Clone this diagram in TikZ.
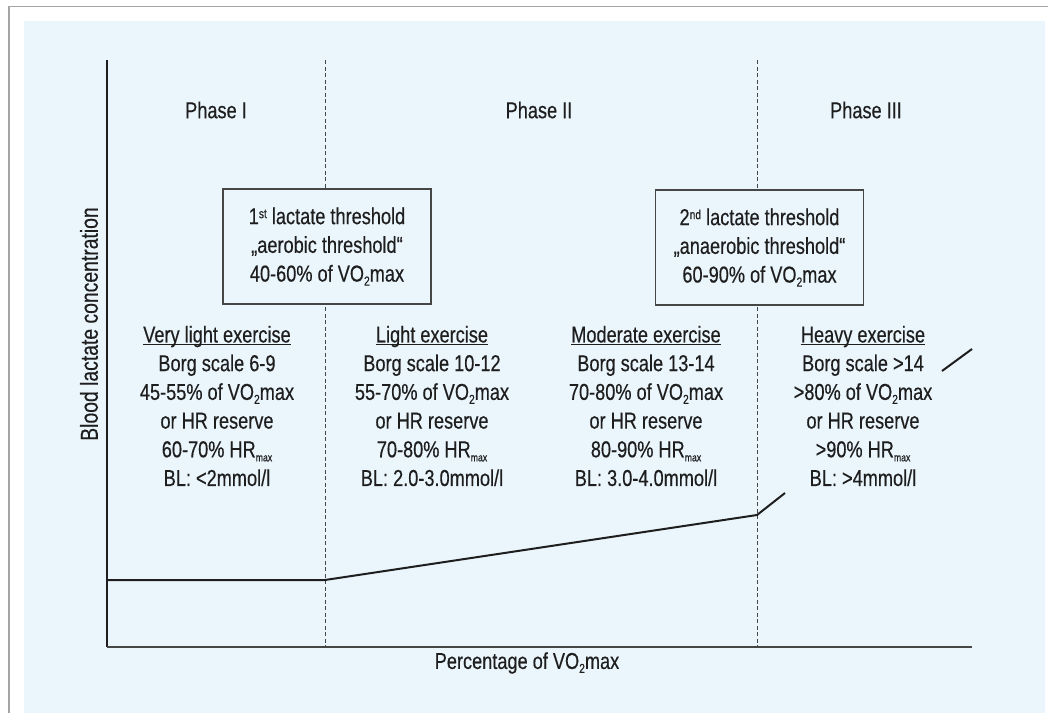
\documentclass[tikz,border=0pt]{standalone}
\usepackage{fontspec}
\setmainfont{Liberation Sans}[FakeStretch=0.79,FakeBold=0.35]
\definecolor{bgblue}{RGB}{234,245,252}
\definecolor{framegray}{RGB}{165,165,165}
\definecolor{ink}{RGB}{30,30,30}
\definecolor{axisgray}{RGB}{70,70,70}
\newcommand\undl[1]{\setbox0\hbox{#1}\rlap{\rule[-3pt]{\wd0}{1.1pt}}\box0}
\newcommand\lowsub[1]{\raisebox{-4pt}{\fontsize{13}{13}\selectfont #1}}
\newcommand\vo{VO\lowsub{2}max}
\newcommand\hrm{HR\lowsub{\fontsize{11}{11}\selectfont max}}
\newcommand\smsup[1]{\raisebox{6pt}{\fontsize{13}{13}\selectfont #1}}
\tikzset{
  txt/.style={text=ink, inner sep=0pt, align=center, font=\fontsize{23}{28.7}\selectfont},
  thbox/.style={txt, draw=axisgray, line width=1.4pt, fill=bgblue, minimum width=208pt, minimum height=115pt},
  phaseline/.style={draw=axisgray, line width=1pt, dash pattern=on 4pt off 2.5pt},
  curve/.style={draw=ink, line width=2pt},
}
\begin{document}
\begin{tikzpicture}[x=1pt,y=-1pt]
\useasboundingbox (0,0) rectangle (1050,713);
% frame and background
\draw[framegray, line width=1.5pt] (9,713) -- (9,6.5) -- (1048,6.5);
\fill[bgblue] (24,21) rectangle (1045,713);
% phase separators
\coordinate (d1t) at (325,60); \coordinate (d1b) at (325,647);
\coordinate (d2t) at (757,60); \coordinate (d2b) at (757,647);
\draw[phaseline] (d1t) -- (d1b);
\draw[phaseline] (d2t) -- (d2b);
% axes
\coordinate (ytop) at (107,60); \coordinate (orig) at (107,647); \coordinate (xend) at (972,647);
\draw[ink, line width=1.5pt] (ytop) -- (orig);
\draw[axisgray, line width=2.6pt] (orig) -- (xend);
% labels
\node[txt, rotate=90, font=\fontsize{24.5}{28}\selectfont] (ylab) at (89,324) {Blood lactate concentration};
\node[txt] (xlab) at (527,663) {Percentage of \vo};
\node[txt] (ph1) at (216,110) {Phase I};
\node[txt] (ph2) at (539,110) {Phase II};
\node[txt] (ph3) at (866,110) {Phase III};
% threshold boxes
\node[thbox] (lt1) at (327,246.5) {1\smsup{st} lactate threshold\\„aerobic threshold“\\40-60\% of \vo};
\node[thbox] (lt2) at (759.5,247.5) {2\smsup{nd} lactate threshold\\„anaerobic threshold“\\60-90\% of \vo};
% exercise zones
\node[txt] (z1) at (217,406) {\undl{Very light exercise}\\Borg scale 6-9\\45-55\% of \vo\\or HR reserve\\60-70\% \hrm\\BL: <2mmol/l};
\node[txt] (z2) at (432,406) {\undl{Light exercise}\\Borg scale 10-12\\55-70\% of \vo\\or HR reserve\\70-80\% \hrm\\BL: 2.0-3.0mmol/l};
\node[txt] (z3) at (646,406) {\undl{Moderate exercise}\\Borg scale 13-14\\70-80\% of \vo\\or HR reserve\\80-90\% \hrm\\BL: 3.0-4.0mmol/l};
\node[txt] (z4) at (863,406) {\undl{Heavy exercise}\\Borg scale >14\\>80\% of \vo\\or HR reserve\\>90\% \hrm\\BL: >4mmol/l};
% lactate curve
\coordinate (c0) at (107,580); \coordinate (c1) at (325,580);
\coordinate (c2) at (757,515); \coordinate (c3) at (785,493);
\coordinate (c4) at (942,371); \coordinate (c5) at (972,349);
\draw[curve] (c0) -- (c1) -- (c2) -- (c3);
\draw[curve] (c4) -- (c5);
\end{tikzpicture}
\end{document}
